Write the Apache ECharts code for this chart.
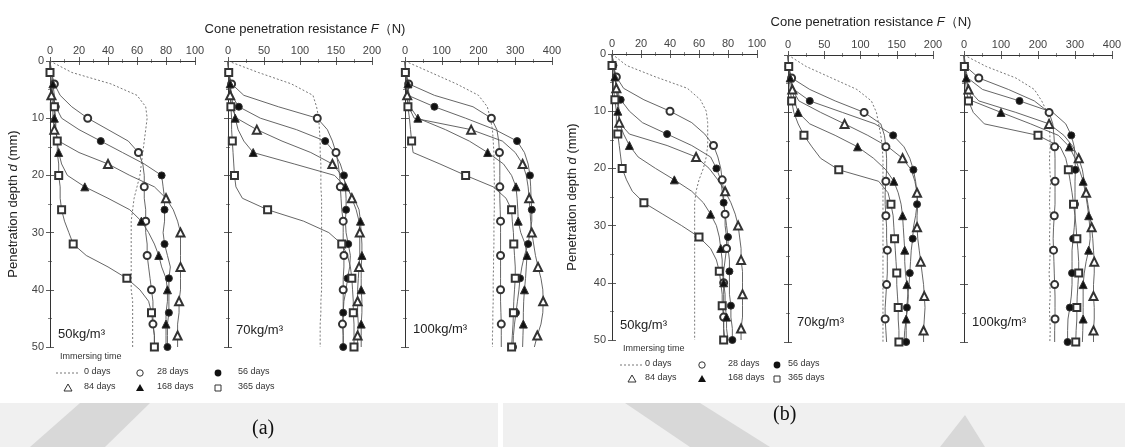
<!DOCTYPE html>
<html><head><meta charset="utf-8">
<script src="https://cdn.jsdelivr.net/npm/echarts@6/dist/echarts.min.js"></script>
<style>html,body{margin:0;padding:0;background:#fff}#c{width:1125px;height:447px}</style>
</head><body><div id="c"></div>
<script>
// ---------------- data ----------------
const depth = [0,2,4,6,8,10,12,14,16,18,20,22,24,26,28,30,32,34,36,38,40,42,44,46,48,50];
const seriesNames = ['0 days','28 days','56 days','84 days','168 days','365 days'];
const xTickMax = [100,200,400];
const xTickStep = [20,50,100];
const panelLabels = ['50kg/m³','70kg/m³','100kg/m³'];

// (a) 50 kg/m3
const a50_d0   = [0,15,42,60,66,67,66,65,64,63,62,60,58,57,56,56,56,56,56,56,56,57,57,57,57,57];
const a50_d28  = [0,1,3,7,15,26,40,54,61,64,65,65,65,66,66,66,67,67,68,69,70,71,71,71,72,72];
const a50_d56  = [0,0,1,2,4,8,20,35,50,65,77,78,79,79,79,78,79,81,83,82,82,82,82,81,81,81];
const a50_d84  = [0,0,1,1,2,2,3,6,20,40,55,72,80,85,88,90,90,90,90,90,90,89,89,88,88,88];
const a50_d168 = [0,1,2,3,3,3,4,5,6,8,12,24,40,55,63,68,72,75,77,80,81,81,80,80,80,80];
const a50_d365 = [0,0,1,2,3,4,4,5,5,6,6,7,7,8,10,13,16,25,40,53,62,68,70,71,72,72];
// (a) 70 kg/m3
const a70_d0   = [0,42,88,118,123,126,127,128,128,129,129,129,130,130,130,130,130,130,130,130,130,129,129,128,128,128];
const a70_d28  = [0,1,5,22,70,124,138,145,150,153,155,156,157,158,160,160,160,161,161,160,160,160,160,159,160,160];
const a70_d56  = [0,1,2,5,15,45,95,135,148,156,161,163,164,164,163,164,167,170,169,166,164,161,160,160,160,160];
const a70_d84  = [0,1,2,3,5,12,40,75,115,145,158,166,172,178,182,183,183,183,182,181,180,180,180,181,180,180];
const a70_d168 = [0,1,3,5,7,10,14,22,35,92,148,163,175,182,184,185,186,186,185,185,185,186,186,185,185,185];
const a70_d365 = [0,1,2,3,4,5,5,6,7,8,9,11,20,55,105,140,158,166,170,172,173,174,174,175,175,175];
// (a) 100 kg/m3
const a100_d0   = [0,70,140,200,224,232,238,240,242,242,243,243,243,243,242,242,242,241,241,240,240,240,239,239,238,238];
const a100_d28  = [0,2,10,80,185,235,250,255,257,258,258,258,258,259,260,260,260,260,260,260,260,260,261,262,262,262];
const a100_d56  = [0,2,4,8,80,165,245,305,325,335,340,342,343,345,345,340,335,325,318,313,310,306,302,298,295,294];
const a100_d84  = [0,2,4,6,10,25,180,265,300,320,330,335,338,340,342,345,350,355,362,370,375,376,375,370,360,352];
const a100_d168 = [0,3,8,11,14,35,110,175,225,268,290,302,305,307,308,315,327,332,330,328,325,323,322,322,321,320];
const a100_d365 = [0,1,3,5,8,12,15,18,22,95,165,240,275,290,292,295,296,298,300,300,298,296,295,294,292,290];
// (b) 50 kg/m3
const b50_d0   = [0,10,30,52,61,65,66,66,66,65,63,60,58,57,57,57,57,57,57,57,57,57,57,57,57,57];
const b50_d28  = [0,1,3,8,22,40,55,64,70,73,75,76,77,77,78,78,79,79,78,77,77,77,77,77,77,78];
const b50_d56  = [0,1,2,3,6,12,21,38,55,68,72,75,76,77,78,79,80,80,81,81,81,81,82,82,83,83];
const b50_d84  = [0,1,2,3,4,5,5,12,38,58,67,73,78,82,85,87,88,89,89,90,90,90,90,90,89,89];
const b50_d168 = [0,1,2,3,4,4,5,8,12,18,30,43,55,63,68,72,74,75,76,76,77,78,78,79,79,80];
const b50_d365 = [0,0,1,1,2,3,3,4,5,6,7,10,14,22,35,48,60,68,72,74,75,76,76,77,77,77];
// (b) 70 kg/m3
const b70_d0   = [0,25,60,95,115,122,125,128,130,131,131,131,131,131,131,131,131,131,131,131,131,131,131,131,131,131];
const b70_d28  = [0,1,5,30,65,105,128,133,135,136,136,135,134,134,135,136,136,137,137,137,136,135,134,134,135,136];
const b70_d56  = [0,1,3,8,30,75,120,145,160,168,173,176,178,178,176,173,172,170,169,168,167,165,164,163,163,163];
const b70_d84  = [0,1,3,6,15,45,78,110,138,158,170,175,178,179,178,178,179,181,183,185,187,188,189,188,187,187];
const b70_d168 = [0,1,3,6,9,14,30,65,96,118,135,146,152,156,158,159,160,161,161,162,164,166,165,163,161,160];
const b70_d365 = [0,1,2,3,5,8,14,22,33,45,70,125,138,142,145,146,147,148,149,150,150,151,152,152,153,153];
// (b) 100 kg/m3
const b100_d0   = [0,60,140,190,210,225,230,232,233,231,232,234,232,231,233,232,231,233,232,230,232,233,231,232,233,232];
const b100_d28  = [0,5,40,120,190,230,240,243,245,246,246,246,246,246,244,242,241,242,243,244,245,246,246,246,245,245];
const b100_d56  = [0,3,10,50,150,240,275,290,298,300,301,300,300,300,300,298,295,292,292,292,292,290,286,281,280,280];
const b100_d84  = [0,2,5,12,40,140,230,270,295,310,320,325,330,335,340,345,348,350,352,352,350,350,352,352,350,350];
const b100_d168 = [0,2,6,12,22,100,180,255,285,300,312,322,328,333,337,340,341,337,330,325,322,322,322,322,321,320];
const b100_d365 = [0,1,3,6,12,25,55,200,260,275,282,287,292,296,300,303,305,308,310,310,308,306,305,305,303,302];

// ---------------- layout ----------------
const panels = [
  {grid:{left:50, top:61, width:145, height:286}, k:0, showY:true, data:[a50_d0,a50_d28,a50_d56,a50_d84,a50_d168,a50_d365], lab:[58,337]},
  {grid:{left:228,top:61, width:144, height:286}, k:1, showY:false, data:[a70_d0,a70_d28,a70_d56,a70_d84,a70_d168,a70_d365], lab:[236,333]},
  {grid:{left:405,top:61, width:147, height:286}, k:2, showY:false, data:[a100_d0,a100_d28,a100_d56,a100_d84,a100_d168,a100_d365], lab:[413,332]},
  {grid:{left:612,top:54, width:145, height:286}, k:0, showY:true, data:[b50_d0,b50_d28,b50_d56,b50_d84,b50_d168,b50_d365], lab:[620,328]},
  {grid:{left:788,top:55, width:145, height:287}, k:1, showY:false, data:[b70_d0,b70_d28,b70_d56,b70_d84,b70_d168,b70_d365], lab:[797,325]},
  {grid:{left:964,top:55, width:148, height:287}, k:2, showY:false, data:[b100_d0,b100_d28,b100_d56,b100_d84,b100_d168,b100_d365], lab:[972,325]}
];
const symbols = ['none','emptyCircle','circle','emptyTriangle','triangle','emptyRect'];
const symSizes = [0,7,7,8,8,7];
const tickStyle = {show:true, inside:true, length:4, lineStyle:{color:'#333', width:0.8}};
const minorStyle = {show:true, splitNumber:2, length:2, lineStyle:{color:'#333', width:0.6}};
const axisLineStyle = {show:true, lineStyle:{color:'#333', width:1}};
const labelFont = {fontFamily:'Liberation Sans, Arial, sans-serif', fontSize:11, color:'#444'};

const grids = [], xAxes = [], yAxes = [], series = [], graphics = [];
panels.forEach((p, pi) => {
  grids.push(Object.assign({containLabel:false}, p.grid));
  const xm = xTickMax[p.k], xs = xTickStep[p.k];
  xAxes.push({gridIndex:pi, type:'value', position:'top', min:0, max:xm, interval:xs,
    axisLine:axisLineStyle, axisTick:tickStyle, minorTick:minorStyle, splitLine:{show:false},
    axisLabel:Object.assign({margin:5}, labelFont)});
  xAxes.push({gridIndex:pi, type:'value', position:'bottom', min:0, max:xm, interval:xs,
    axisLine:axisLineStyle, axisTick:tickStyle, minorTick:minorStyle, splitLine:{show:false},
    axisLabel:{show:false}});
  const yName = p.showY ? {name:'{n|Penetration depth }{i|d}{n| (mm)}', nameLocation:'middle',
    nameGap: pi===0 ? 30 : 33,
    nameTextStyle:{rich:{n:{fontFamily:'Liberation Sans, Arial, sans-serif', fontSize:13, color:'#222'},
                         i:{fontFamily:'Liberation Sans, Arial, sans-serif', fontSize:13, fontStyle:'italic', color:'#222'}}}} : {};
  yAxes.push(Object.assign({gridIndex:pi, type:'value', position:'left', inverse:true, min:0, max:50, interval:10,
    axisLine:axisLineStyle, axisTick:tickStyle, minorTick:minorStyle, splitLine:{show:false},
    axisLabel:Object.assign({show:p.showY, margin:6}, labelFont)}, yName));
  yAxes.push({gridIndex:pi, type:'value', position:'right', inverse:true, min:0, max:50, interval:10,
    axisLine:axisLineStyle, axisTick:tickStyle, minorTick:minorStyle, splitLine:{show:false},
    axisLabel:{show:false}});
  p.data.forEach((vals, si) => {
    series.push({
      type:'line', name:seriesNames[si], xAxisIndex:pi*2, yAxisIndex:pi*2,
      symbol:symbols[si], symbolSize:symSizes[si], showAllSymbol:true, animation:false, silent:true,
      lineStyle: si===0 ? {color:'#777', width:1, type:[2,2]} : {color:'#555', width:0.9},
      itemStyle:{color:(si===2||si===4)?'#111':'#333', borderColor:'#333', borderWidth:1},
      z: si===0 ? 2 : 3,
      data: vals.map((f,i)=>({value:[f, depth[i]],
        symbol: (si>0 && i>0 && (i+si)%3===0) ? symbols[si] : 'none'}))
    });
  });
  graphics.push({type:'text', left:p.lab[0], top:p.lab[1]-9, z:10,
    style:{text:panelLabels[p.k], font:'13px "Liberation Sans", Arial, sans-serif', fill:'#222'}});
});

// legend drawn as graphic
function legendBlock(x0, yHead, y1, y2, cols) {
  const font = '9px "Liberation Sans", Arial, sans-serif';
  graphics.push({type:'text', left:x0, top:yHead-6, style:{text:'Immersing time', font:font, fill:'#333'}});
  const rows = [[0,1,2],[3,4,5]];
  rows.forEach((r, ri) => {
    const y = ri===0 ? y1 : y2;
    r.forEach((si, ci) => {
      const sx = cols[ci][0], tx = cols[ci][1];
      let shp;
      if (si===0) shp = {type:'line', shape:{x1:sx-12, y1:y, x2:sx+10, y2:y}, style:{stroke:'#777', lineWidth:1, lineDash:[2,2]}};
      else if (si===1) shp = {type:'circle', shape:{cx:sx, cy:y, r:3.2}, style:{fill:'#fff', stroke:'#333', lineWidth:1}};
      else if (si===2) shp = {type:'circle', shape:{cx:sx, cy:y, r:3.4}, style:{fill:'#111'}};
      else if (si===3) shp = {type:'polygon', shape:{points:[[sx,y-4],[sx+4,y+3],[sx-4,y+3]]}, style:{fill:'#fff', stroke:'#333', lineWidth:1}};
      else if (si===4) shp = {type:'polygon', shape:{points:[[sx,y-4],[sx+4,y+3],[sx-4,y+3]]}, style:{fill:'#111'}};
      else shp = {type:'rect', shape:{x:sx-3, y:y-3, width:6, height:6}, style:{fill:'#fff', stroke:'#333', lineWidth:1}};
      graphics.push(shp);
      graphics.push({type:'text', left:tx, top:y-6, style:{text:seriesNames[si], font:font, fill:'#333'}});
    });
  });
}
legendBlock(60, 358, 373, 388, [[68,84],[140,157],[218,238]]);
legendBlock(623, 350, 365, 379, [[632,645],[702,728],[777,788]]);

// captions
graphics.push({type:'text', left:252, top:419, style:{text:'(a)', font:'20px "Liberation Serif", "Times New Roman", serif', fill:'#111'}});
graphics.push({type:'text', left:773, top:405, style:{text:'(b)', font:'20px "Liberation Serif", "Times New Roman", serif', fill:'#111'}});

// watermark-like background band
graphics.push({type:'rect', shape:{x:0, y:403, width:1125, height:44}, style:{fill:'#f0f0f0'}, z:-10});
graphics.push({type:'polygon', shape:{points:[[30,447],[80,403],[150,403],[105,447]]}, style:{fill:'#d8d8d8'}, z:-9});
graphics.push({type:'rect', shape:{x:498, y:403, width:5, height:44}, style:{fill:'#ffffff'}, z:-9});
graphics.push({type:'polygon', shape:{points:[[625,403],[700,403],[770,447],[690,447]]}, style:{fill:'#d8d8d8'}, z:-9});
graphics.push({type:'polygon', shape:{points:[[940,447],[965,415],[985,447]]}, style:{fill:'#d8d8d8'}, z:-9});

const titleRich = {n:{fontFamily:'Liberation Sans, Arial, sans-serif', fontSize:13, fontWeight:'normal', color:'#222'},
                   i:{fontFamily:'Liberation Sans, Arial, sans-serif', fontSize:13, fontWeight:'normal', fontStyle:'italic', color:'#222'}};
const option = {
  backgroundColor:'#fff',
  animation:false,
  title:[
    {text:'{n|Cone penetration resistance }{i|F}{n|（N)}', left:300, top:18, textAlign:'center', textStyle:{fontWeight:'normal', rich:titleRich}},
    {text:'{n|Cone penetration resistance }{i|F}{n|（N)}', left:866, top:11, textAlign:'center', textStyle:{fontWeight:'normal', rich:titleRich}}
  ],
  grid:grids, xAxis:xAxes, yAxis:yAxes, series:series, graphic:graphics
};
const chart = echarts.init(document.getElementById('c'));
chart.setOption(option);
</script></body></html>
